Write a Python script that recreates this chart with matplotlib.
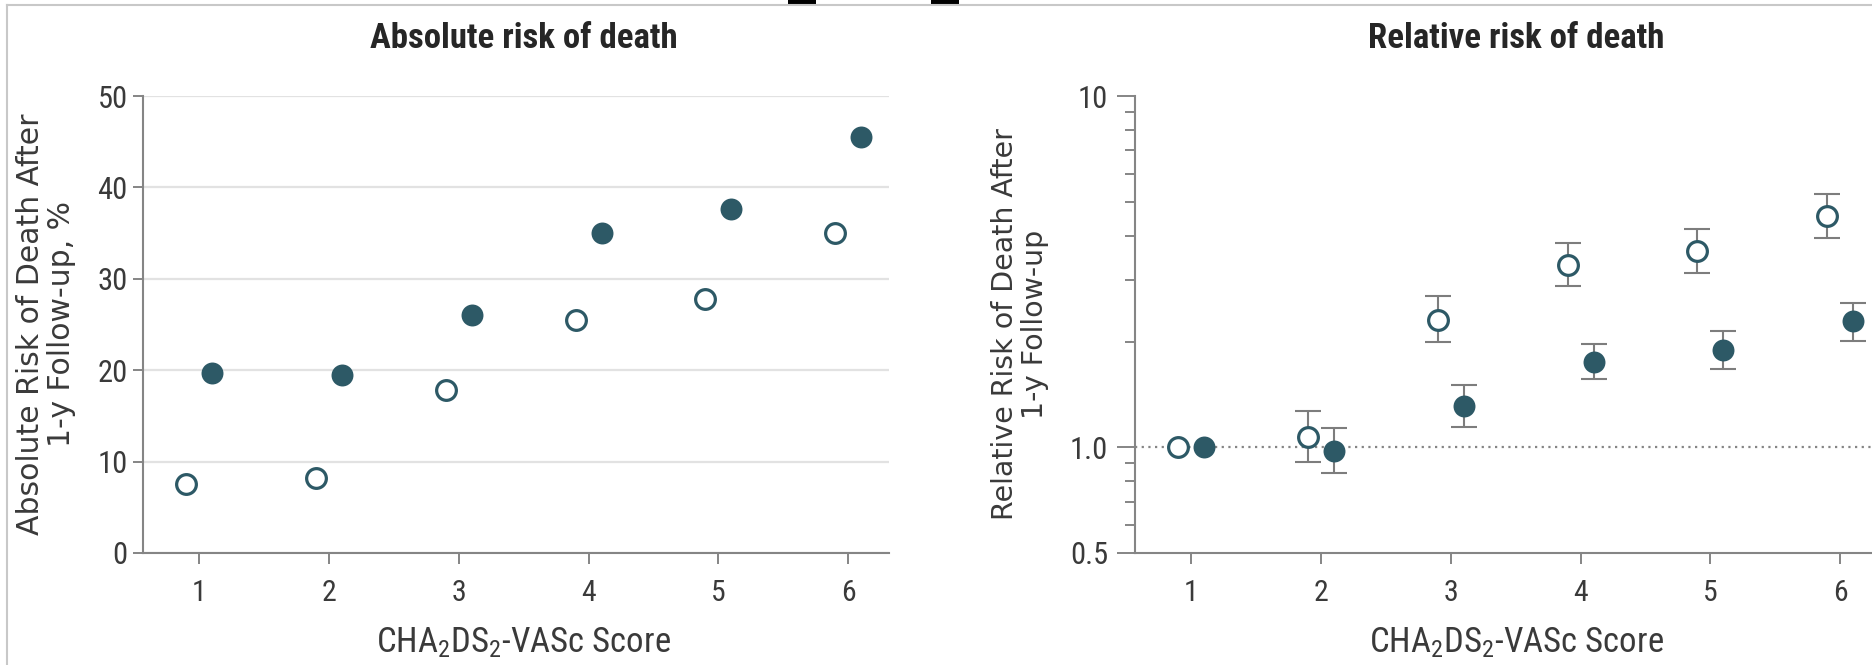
import numpy as np
import matplotlib
matplotlib.use("Agg")
import matplotlib.pyplot as plt
from matplotlib import font_manager as fm
from matplotlib.lines import Line2D
from matplotlib.patches import Rectangle

# ---------------------------------------------------------------- data
scores = [1, 2, 3, 4, 5, 6]

# absolute risk of death after 1-y follow-up, %
abs_open   = [7.5, 8.2, 17.8, 25.5, 27.8, 35.0]
abs_filled = [19.7, 19.5, 26.0, 35.0, 37.6, 45.5]

# relative risk of death (score 1 is the reference, no CI)
rel_open      = [1.0, 1.07, 2.31, 3.31, 3.63, 4.55]
rel_open_lo   = [1.0, 0.906, 2.00, 2.88, 3.14, 3.93]
rel_open_hi   = [1.0, 1.27, 2.69, 3.82, 4.19, 5.27]
rel_filled    = [1.0, 0.974, 1.31, 1.745, 1.89, 2.29]
rel_filled_lo = [1.0, 0.844, 1.14, 1.56, 1.67, 2.01]
rel_filled_hi = [1.0, 1.133, 1.50, 1.97, 2.14, 2.58]

abs_yticks = [0, 10, 20, 30, 40, 50]
rel_yticks = [0.5, 1.0, 10]
rel_yticklabels = ["0.5", "1.0", "10"]

xlabel_text = r"CHA$_2$DS$_2$-VASc Score"

# ---------------------------------------------------------------- style
TEAL = "#2d5966"
GREY = "#858585"
EBAR = "#7d7d7d"
GRID = "#e2e2e2"
TXT = "#3a3a3a"

names = {f.name for f in fm.fontManager.ttflist}
cond = "DejaVu Sans"
for n in ["Roboto Condensed", "Liberation Sans Narrow", "Open Sans Condensed"]:
    if n in names:
        cond = n
        break
COND = [cond, "DejaVu Sans"]

plt.rcParams["font.family"] = COND
plt.rcParams["mathtext.fontset"] = "custom"
plt.rcParams["mathtext.rm"] = cond
plt.rcParams["mathtext.it"] = cond
plt.rcParams["mathtext.bf"] = cond

W, H = 1872, 665
fig = plt.figure(figsize=(W / 100, H / 100), dpi=100)

def fx(px):
    return px / W

def fy(py):
    return 1 - py / H

ax_w = 746
ax_h = 457
ax1 = fig.add_axes([fx(143), fy(553), fx(ax_w), ax_h / H])
ax2 = fig.add_axes([fx(1135), fy(553), fx(ax_w), ax_h / H])

x = np.array(scores, dtype=float)
off = 0.1

def style_axes(ax):
    for s in ["top", "right"]:
        ax.spines[s].set_visible(False)
    for s in ["left", "bottom"]:
        ax.spines[s].set_color(GREY)
        ax.spines[s].set_linewidth(1.5)
    ax.set_xlim(0.565, 6.315)
    ax.set_xticks(scores)
    ax.tick_params(axis="x", length=8, width=1.4, color=GREY, pad=11,
                   labelsize=21.5, labelcolor=TXT)

# ---------------------------------------------------------------- left panel
style_axes(ax1)
ax1.set_ylim(0, 50)
ax1.set_yticks(abs_yticks)
ax1.tick_params(axis="y", length=7, width=1.4, color=GREY, pad=4,
                labelsize=22, labelcolor=TXT)
ax1.yaxis.grid(True, color=GRID, lw=1.6)
ax1.set_axisbelow(True)
ax1.plot(x - off, abs_open, "o", ms=14.2, mfc="white", mec=TEAL, mew=2.3,
         zorder=3, clip_on=False)
ax1.plot(x + off, abs_filled, "o", ms=15.8, mfc=TEAL, mec=TEAL, mew=0,
         zorder=3, clip_on=False)

# ---------------------------------------------------------------- right panel
style_axes(ax2)
ax2.set_yscale("log")
ax2.set_ylim(0.5, 10)
ax2.set_yticks(rel_yticks)
ax2.set_yticklabels(rel_yticklabels)
ax2.yaxis.set_minor_locator(matplotlib.ticker.LogLocator(base=10, subs=np.arange(2, 10)))
ax2.yaxis.set_minor_formatter(matplotlib.ticker.NullFormatter())
ax2.tick_params(axis="y", which="major", length=13, width=1.4, color=GREY,
                pad=6.5, labelsize=22, labelcolor=TXT)
ax2.tick_params(axis="y", which="minor", length=7, width=1.4, color=GREY)
ax2.axhline(1.0, color=GREY, lw=1.6, ls=(0, (1, 2)), zorder=1)

ro = np.array(rel_open)
rf = np.array(rel_filled)
err_o = [ro[1:] - np.array(rel_open_lo[1:]), np.array(rel_open_hi[1:]) - ro[1:]]
err_f = [rf[1:] - np.array(rel_filled_lo[1:]), np.array(rel_filled_hi[1:]) - rf[1:]]
ax2.errorbar(x[1:] - off, ro[1:], yerr=err_o, fmt="none", ecolor=EBAR,
             elinewidth=1.5, capsize=9.7, capthick=1.5, zorder=2)
ax2.errorbar(x[1:] + off, rf[1:], yerr=err_f, fmt="none", ecolor=EBAR,
             elinewidth=1.5, capsize=9.7, capthick=1.5, zorder=2)
ax2.plot(x - off, ro, "o", ms=14.2, mfc="white", mec=TEAL, mew=2.3, zorder=3)
ax2.plot(x + off, rf, "o", ms=15.8, mfc=TEAL, mec=TEAL, mew=0, zorder=3)

# ---------------------------------------------------------------- text
fig.text(fx(524), fy(48), "Absolute risk of death", ha="center", va="baseline",
         fontsize=25, fontweight="bold", color="#262626")
fig.text(fx(1516), fy(48), "Relative risk of death", ha="center", va="baseline",
         fontsize=25, fontweight="bold", color="#262626")

fig.text(fx(523), fy(652), xlabel_text, ha="center", va="baseline",
         fontsize=25, color=TXT)
fig.text(fx(1516), fy(652), xlabel_text, ha="center", va="baseline",
         fontsize=25, color=TXT)

fig.text(fx(46), fy(324), "Absolute Risk of Death After\n1-y Follow-up, %",
         rotation=90, ha="center", va="center", multialignment="center",
         fontsize=21.5, family="DejaVu Sans", color=TXT, linespacing=1.1)
fig.text(fx(1020), fy(324), "Relative Risk of Death After\n1-y Follow-up",
         rotation=90, ha="center", va="center", multialignment="center",
         fontsize=20.5, family="DejaVu Sans", color=TXT, linespacing=1.1)

# frame remnants of the page
fig.add_artist(Line2D([fx(7), 1], [fy(5), fy(5)], transform=fig.transFigure,
                      color="#c8c8c8", lw=1.5))
fig.add_artist(Line2D([fx(7), fx(7)], [0, fy(5)], transform=fig.transFigure,
                      color="#c8c8c8", lw=1.5))
for left in [788, 931]:
    fig.add_artist(Rectangle((fx(left), fy(5)), fx(28), 5 / H,
                             transform=fig.transFigure, color="black", lw=0))

fig.savefig("out.png", dpi=100)
